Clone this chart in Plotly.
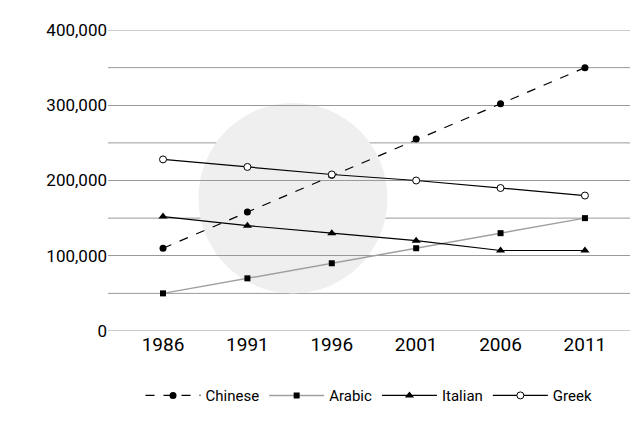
import plotly.graph_objects as go

years = [1986, 1991, 1996, 2001, 2006, 2011]
chinese = [110000, 158000, 207000, 255000, 302000, 350000]
arabic = [50000, 70000, 90000, 110000, 130000, 150000]
italian = [152000, 140000, 130000, 120000, 107000, 107000]
greek = [228000, 218000, 208000, 200000, 190000, 180000]

fig = go.Figure()
fig.add_trace(go.Scatter(x=years, y=chinese, name="Chinese", mode="lines+markers",
                         line=dict(color="black", width=1.2, dash="dash"),
                         marker=dict(symbol="circle", size=7, color="black")))
fig.add_trace(go.Scatter(x=years, y=arabic, name="Arabic", mode="lines+markers",
                         line=dict(color="#a0a0a0", width=1.5),
                         marker=dict(symbol="square", size=6, color="black")))
fig.add_trace(go.Scatter(x=years, y=italian, name="Italian", mode="lines+markers",
                         line=dict(color="black", width=1.2),
                         marker=dict(symbol="triangle-up", size=8, color="black")))
fig.add_trace(go.Scatter(x=years, y=greek, name="Greek", mode="lines+markers",
                         line=dict(color="black", width=1.2),
                         marker=dict(symbol="circle", size=7, color="white",
                                     line=dict(color="black", width=1))))

# faint watermark disc
fig.add_shape(type="circle", xref="x", yref="y", layer="below",
              x0=1988.1, x1=1999.3, y0=50000, y1=303000,
              fillcolor="#efefef", line=dict(width=0))

fig.update_layout(
    width=640, height=426,
    margin=dict(l=100, r=18, t=22, b=103, autoexpand=False),
    plot_bgcolor="white", paper_bgcolor="white",
    font=dict(family="Roboto", size=17, color="black"),
    showlegend=True,
    legend=dict(orientation="h", x=0.5, xanchor="center", yref="container",
                y=0.09, yanchor="middle", font=dict(size=15), itemwidth=55,
                traceorder="normal"),
    xaxis=dict(range=[1982.74, 2013.67], tickvals=years, showgrid=False,
               zeroline=False, showline=False, ticks="", tickfont=dict(size=19)),
    yaxis=dict(range=[0, 400000], tickvals=[0, 100000, 200000, 300000, 400000],
               tickformat=",d", showgrid=True, gridcolor="#9a9a9a", gridwidth=1,
               zeroline=False, ticks="", ticksuffix="  "),
)
for v in [0, 50000, 150000, 250000, 350000, 400000]:
    fig.add_hline(y=v, line=dict(color="#9a9a9a", width=1), layer="below")

fig.write_html("out.html")
